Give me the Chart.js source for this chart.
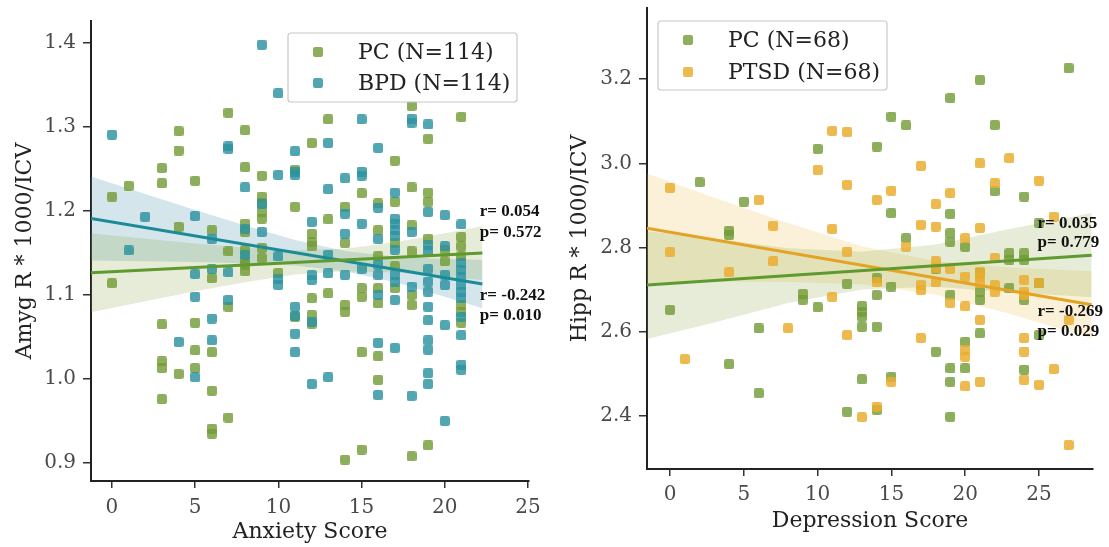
<!DOCTYPE html>
<html><head><meta charset="utf-8">
<script src="https://cdn.jsdelivr.net/npm/chart.js@4.4.0/dist/chart.umd.min.js"></script>
<style>
html,body{margin:0;padding:0;background:#fff;}
#wrap{position:relative;width:1109px;height:547px;overflow:hidden;}
.c{position:absolute;top:0;height:547px;}
</style></head><body>
<div id="wrap">
<div class="c" style="left:0;width:555px"><canvas id="c1"></canvas></div>
<div class="c" style="left:555px;width:554px"><canvas id="c2"></canvas></div>
</div>
<script>
// ---------- Left panel: Anxiety score vs Amyg R ----------
const pcAmyg = [[0,1.217],[0,1.114],[1,1.230],
 [3,1.251],[3,1.233],[3,1.065],[3,1.021],[3,1.013],[3,0.976],
 [4,1.295],[4,1.272],[4,1.181],[4,1.006],
 [5,1.236],[5,1.067],[5,1.034],[5,1.013],
 [6,1.177],[6,1.120],[6,1.032],[6,0.986],[6,0.941],[6,0.935],
 [7,1.317],[7,1.152],[7,1.086],[7,0.954],
 [8,1.296],[8,1.252],[8,1.185],[8,1.175],[8,1.153],[8,1.142],[8,1.136],[8,1.128],
 [9,1.242],[9,1.217],[9,1.209],[9,1.199],[9,1.191],[9,1.156],[9,1.144],
 [10,1.126],[11,1.249],[11,1.205],[11,1.074],
 [12,1.281],[12,1.173],[12,1.163],[12,1.158],[12,1.096],[12,1.076],[12,1.066],
 [13,1.309],[13,1.190],[13,1.102],
 [14,1.205],[14,1.162],[14,1.088],[14,1.080],[14,0.904],
 [15,1.221],[15,1.108],[15,1.098],[15,1.032],[15,0.916],
 [16,1.209],[16,1.177],[16,1.146],[16,1.108],[16,1.090],[16,1.027],[16,0.999],
 [17,1.260],[17,1.211],[17,1.162],[17,1.134],[17,1.108],
 [18,1.325],[18,1.228],[18,1.183],[18,1.152],[18,1.100],[18,1.088],[18,0.908],
 [19,1.286],[19,1.222],[19,1.211],[19,1.167],[19,0.921],
 [20,1.154],[20,1.140],
 [21,1.312],[21,1.169],[21,1.158],[21,1.146],[21,1.088],[21,1.080],[21,1.067]];
const bpdAmyg = [[0,1.291],[1,1.153],[2,1.193],[4,1.044],
 [5,1.194],[5,1.125],[5,1.098],[5,1.002],
 [6,1.167],[6,1.131],[6,1.072],[6,1.046],
 [7,1.277],[7,1.274],[7,1.127],[7,1.094],
 [8,1.228],[8,1.179],[8,1.148],
 [9,1.398],[9,1.208],[9,1.175],
 [10,1.340],[10,1.243],[10,1.146],[10,1.119],[10,1.112],
 [11,1.271],[11,1.247],[11,1.243],[11,1.086],[11,1.075],[11,1.054],[11,1.032],
 [12,1.187],[12,1.124],[12,1.118],[12,1.068],[12,0.994],
 [13,1.281],[13,1.226],[13,1.148],[13,1.126],[13,1.002],
 [14,1.239],[14,1.197],[14,1.173],[14,1.124],
 [15,1.309],[15,1.247],[15,1.242],[15,1.185],[15,1.131],
 [16,1.275],[16,1.204],[16,1.167],[16,1.136],[16,1.124],[16,1.100],[16,1.043],[16,0.981],
 [17,1.222],[17,1.191],[17,1.185],[17,1.177],[17,1.170],[17,1.154],[17,1.124],[17,1.116],[17,1.094],[17,1.037],
 [18,1.310],[18,1.305],[18,1.175],[18,1.110],[18,0.980],
 [19,1.303],[19,1.199],[19,1.160],[19,1.152],[19,1.131],[19,1.116],[19,1.104],[19,1.086],[19,1.070],[19,1.046],[19,1.035],[19,1.007],[19,0.994],
 [20,1.195],[20,1.158],[20,1.124],[20,1.112],[20,1.064],[20,0.950],
 [21,1.184],[21,1.138],[21,1.130],[21,1.121],[21,1.112],[21,1.104],[21,1.096],[21,1.074],[21,1.052],[21,1.017],[21,1.011]];
const amygFitX   = [-1.26, 22.26];
const pcAmygFit  = [1.1265, 1.150];
const bpdAmygFit = [1.191, 1.113];
const amygBandX     = [-1.26, 2, 5, 8, 11, 14, 17, 20, 22.26];
const pcAmygUpper   = [1.1735,1.1669,1.1612,1.1563,1.1533,1.1552,1.1629,1.1735,1.182];
const pcAmygLower   = [1.0795,1.0927,1.1044,1.1153,1.1243,1.1284,1.1267,1.1221,1.118];
const bpdAmygUpper  = [1.241,1.2202,1.2012,1.1828,1.1656,1.1524,1.1457,1.1430,1.1419];
const bpdAmygLower  = [1.141,1.1402,1.1392,1.1378,1.1350,1.1284,1.1151,1.0980,1.0841];
const amygYTicks = [0.9, 1.0, 1.1, 1.2, 1.3, 1.4];
const amygXTicks = [0, 5, 10, 15, 20, 25];
const amygLegend = ['PC (N=114)', 'BPD (N=114)'];
const amygStats  = [['r= 0.054','p= 0.572'], ['r= -0.242','p= 0.010']];

// ---------- Right panel: Depression score vs Hipp R ----------
const pcHipp = [[0,2.652],[2,2.955],[4,2.840],[4,2.830],[4,2.523],[5,2.909],
 [6,2.608],[6,2.454],[9,2.690],[9,2.676],[10,3.034],[10,2.658],[12,2.714],[12,2.410],
 [13,2.661],[13,2.648],[13,2.636],[13,2.612],[13,2.487],
 [14,3.040],[14,2.727],[14,2.687],[14,2.612],[14,2.414],
 [15,3.111],[15,2.882],[15,2.707],[15,2.493],
 [16,3.090],[16,2.822],[18,2.750],[18,2.553],
 [19,3.155],[19,2.880],[19,2.834],[19,2.814],[19,2.687],[19,2.513],[19,2.481],[19,2.398],
 [20,2.802],[20,2.576],[20,2.513],
 [21,3.198],[21,2.740],[21,2.695],[21,2.676],[21,2.596],
 [22,3.091],[22,2.934],[23,2.786],[23,2.771],[23,2.703],
 [24,2.921],[24,2.786],[24,2.771],[24,2.676],[24,2.510],
 [25,2.858],[25,2.715],[25,2.592],[27,3.226]];
const ptsdHipp = [[0,2.942],[0,2.789],[1,2.535],[4,2.741],[6,2.913],[7,2.852],[7,2.767],[8,2.608],
 [10,2.984],[11,3.077],[11,2.844],[11,2.683],[12,3.074],[12,2.949],[12,2.790],[12,2.592],
 [13,2.397],[14,2.913],[14,2.717],[14,2.422],[15,2.935],[15,2.481],[16,2.802],
 [17,2.994],[17,2.854],[17,2.711],[17,2.699],[17,2.585],
 [18,2.903],[18,2.850],[18,2.767],[18,2.751],[18,2.717],
 [19,2.929],[19,2.749],[19,2.668],
 [20,2.822],[20,2.731],[20,2.660],[20,2.557],[20,2.541],[20,2.470],
 [21,3.000],[21,2.846],[21,2.743],[21,2.731],[21,2.715],[21,2.628],[21,2.481],
 [22,2.953],[22,2.775],[22,2.711],[22,2.695],[23,3.012],
 [24,2.723],[24,2.695],[24,2.687],[24,2.585],[24,2.553],[24,2.486],
 [25,2.959],[25,2.715],[25,2.474],[26,2.873],[26,2.511],[27,2.628],[27,2.331]];
const hippFitX    = [-1.56, 28.57];
const pcHippFit   = [2.711, 2.782];
const ptsdHippFit = [2.846, 2.664];
const hippBandX     = [-1.56, 3, 8, 13, 18, 23, 28.57];
const pcHippUpper   = [2.839,2.8217,2.7985,2.7903,2.8071,2.8439,2.882];
const pcHippLower   = [2.583,2.6217,2.6685,2.7003,2.7071,2.6939,2.682];
const ptsdHippUpper = [2.976,2.9185,2.8583,2.8031,2.7679,2.7527,2.744];
const ptsdHippLower = [2.716,2.7185,2.7183,2.7131,2.6879,2.6427,2.584];
const hippYTicks = [2.4, 2.6, 2.8, 3.0, 3.2];
const hippXTicks = [0, 5, 10, 15, 20, 25];
const hippLegend = ['PC (N=68)', 'PTSD (N=68)'];
const hippStats  = [['r= 0.035','p= 0.779'], ['r= -0.269','p= 0.029']];

// ---------- styling ----------
const C = {
  pcPt:'rgba(116,156,56,0.82)', bpdPt:'rgba(44,146,160,0.82)', ptsdPt:'rgba(234,174,48,0.85)',
  pcLine:'#5f9a2f', bpdLine:'#1a8c98', ptsdLine:'#e3a425',
  pcBand:'rgba(130,160,55,0.2)', bpdBand:'rgba(75,145,170,0.24)', ptsdBand:'rgba(235,185,60,0.2)'
};
const SERIF = "'DejaVu Serif', serif";

function sq(color){
  const s=10, c=document.createElement('canvas'); c.width=s; c.height=s;
  const g=c.getContext('2d'); g.fillStyle=color; g.beginPath();
  g.roundRect(0,0,s,s,2.2); g.fill(); return c;
}
const pts = a => a.map(p=>({x:p[0],y:p[1]}));
const zip = (xs,ys) => xs.map((x,i)=>({x:x,y:ys[i]}));

function build(canvasId, o){
  const datasets = [
    {type:'line', data:zip(o.bandX,o.bands[0][0]), borderWidth:0, pointRadius:0, fill:'+1', backgroundColor:o.bandCol[0], order:5},
    {type:'line', data:zip(o.bandX,o.bands[0][1]), borderWidth:0, pointRadius:0, fill:false, order:5},
    {type:'line', data:zip(o.bandX,o.bands[1][0]), borderWidth:0, pointRadius:0, fill:'+1', backgroundColor:o.bandCol[1], order:5},
    {type:'line', data:zip(o.bandX,o.bands[1][1]), borderWidth:0, pointRadius:0, fill:false, order:5},
    {type:'scatter', data:pts(o.s1), pointStyle:sq(o.ptCol[0]), order:3},
    {type:'scatter', data:pts(o.s2), pointStyle:sq(o.ptCol[1]), order:2},
    {type:'line', data:zip(o.fitX,o.fit1), borderColor:o.lineCol[0], borderWidth:3, pointRadius:0, fill:false, order:1},
    {type:'line', data:zip(o.fitX,o.fit2), borderColor:o.lineCol[1], borderWidth:3, pointRadius:0, fill:false, order:1}
  ];
  const overlay = {
    id:'overlay',
    afterDraw(chart){
      const g = chart.ctx, xs = chart.scales.x, ys = chart.scales.y, L = o.legend;
      g.save();
      g.beginPath(); g.roundRect(L.x, L.y, L.w, L.h, 3);
      g.fillStyle='rgba(255,255,255,0.85)'; g.fill();
      g.strokeStyle='#c8c8c8'; g.lineWidth=1.2; g.stroke();
      g.font = '22px ' + SERIF; g.fillStyle='#222'; g.textBaseline='middle'; g.textAlign='left';
      for (let i=0;i<2;i++){
        const yy = L.y + L.rows[i];
        g.drawImage(sq(o.ptCol[i]), L.x + L.mx - 5, yy - 5);
        g.fillText(o.legendText[i], L.x + L.tx, yy + 1);
      }
      g.font = "bold 17px 'Liberation Serif', serif"; g.fillStyle='#111';
      for (let i=0;i<2;i++){
        const st = o.stats[i], pos = o.statPos[i];
        g.fillText(st[0], xs.getPixelForValue(pos[0]), ys.getPixelForValue(pos[1]));
        g.fillText(st[1], xs.getPixelForValue(pos[0]), ys.getPixelForValue(pos[2]));
      }
      g.restore();
    }
  };
  const noPad = s => { s.paddingTop=0; s.paddingBottom=0; s.paddingLeft=0; s.paddingRight=0; };
  return new Chart(document.getElementById(canvasId), {
    data:{datasets},
    options:{
      responsive:true, maintainAspectRatio:false, animation:false,
      layout:{padding:{left:0, top:o.padTop, right:o.padRight, bottom:0}},
      plugins:{legend:{display:false}, tooltip:{enabled:false}},
      scales:{
        x:{type:'linear', min:o.xmin, max:o.xmax,
           afterFit(s){ s.height = o.xHeight; noPad(s); },
           afterBuildTicks(s){ s.ticks = o.xTicks.map(v=>({value:v})); },
           border:{display:true, color:'#222', width:2},
           grid:{display:true, drawOnChartArea:false, drawTicks:true, tickLength:7, color:'#333', lineWidth:1.5},
           ticks:{padding:o.xTickPad, color:'#4a4a4a', font:{family:SERIF, size:20}, callback:v=>String(v), maxRotation:0},
           title:{display:true, text:o.xTitle, color:'#222', font:{family:SERIF, size:22}, padding:{top:0,bottom:o.xTitlePad}}},
        y:{type:'linear', min:o.ymin, max:o.ymax,
           afterFit(s){ s.width = o.yWidth; noPad(s); },
           afterBuildTicks(s){ s.ticks = o.yTicks.map(v=>({value:v})); },
           border:{display:true, color:'#222', width:2},
           grid:{display:true, drawOnChartArea:false, drawTicks:true, tickLength:8, color:'#333', lineWidth:1.5},
           ticks:{padding:7, color:'#4a4a4a', font:{family:SERIF, size:20}, callback:v=>v.toFixed(1)},
           title:{display:true, text:o.yTitle, color:'#222', font:{family:SERIF, size:22}, padding:{top:o.yTitlePad,bottom:0}}}
      }
    },
    plugins:[overlay]
  });
}

build('c1', {
  s1:pcAmyg, s2:bpdAmyg, ptCol:[C.pcPt,C.bpdPt], lineCol:[C.pcLine,C.bpdLine], bandCol:[C.pcBand,C.bpdBand],
  fitX:amygFitX, fit1:pcAmygFit, fit2:bpdAmygFit,
  bandX:amygBandX, bands:[[pcAmygUpper,pcAmygLower],[bpdAmygUpper,bpdAmygLower]],
  xmin:-1.26, xmax:25.06, ymin:0.8786, ymax:1.4262,
  xTicks:amygXTicks, yTicks:amygYTicks,
  padTop:21, padRight:26, xHeight:66, yWidth:91, xTickPad:8, xTitlePad:2, yTitlePad:12,
  xTitle:'Anxiety Score', yTitle:'Amyg R * 1000/ICV',
  legend:{x:288, y:33, w:229, h:69, rows:[19,50], mx:30, tx:70}, legendText:amygLegend,
  stats:amygStats, statPos:[[22.1,1.199,1.174],[22.1,1.099,1.075]]
});
build('c2', {
  s1:pcHipp, s2:ptsdHipp, ptCol:[C.pcPt,C.ptsdPt], lineCol:[C.pcLine,C.ptsdLine], bandCol:[C.pcBand,C.ptsdBand],
  fitX:hippFitX, fit1:pcHippFit, fit2:ptsdHippFit,
  bandX:hippBandX, bands:[[pcHippUpper,pcHippLower],[ptsdHippUpper,ptsdHippLower]],
  xmin:-1.56, xmax:28.66, ymin:2.274, ymax:3.369,
  xTicks:hippXTicks, yTicks:hippYTicks,
  padTop:8, padRight:16, xHeight:78, yWidth:92, xTickPad:7, xTitlePad:13, yTitlePad:12,
  xTitle:'Depression Score', yTitle:'Hipp R * 1000/ICV',
  legend:{x:103, y:21, w:229, h:69, rows:[19,51], mx:30, tx:70}, legendText:hippLegend,
  stats:hippStats, statPos:[[24.9,2.858,2.811],[24.9,2.647,2.600]]
});
</script>
</body></html>
